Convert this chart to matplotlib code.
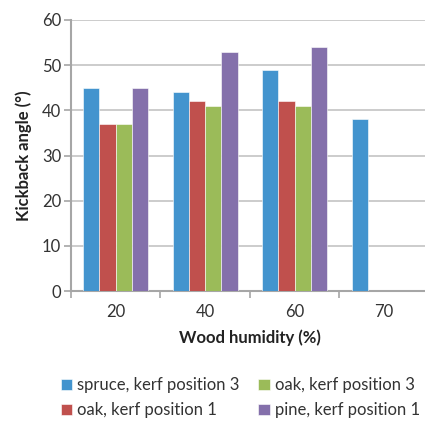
import numpy as np
import matplotlib
matplotlib.use("Agg")
import matplotlib.pyplot as plt

plt.rcParams['font.family'] = ['Lato', 'DejaVu Sans']

humidity = ['20', '40', '60', '70']
series = ['spruce, kerf position 3', 'oak, kerf position 1',
          'oak, kerf position 3', 'pine, kerf position 1']
spruce_k3 = [45, 44, 49, 38]
oak_k1 = [37, 42, 42, 0]
oak_k3 = [37, 41, 41, 0]
pine_k1 = [45, 53, 54, 0]
values = [spruce_k3, oak_k1, oak_k3, pine_k1]
colors = ['#4394CE', '#C0504D', '#9BBB59', '#8470AB']

fig = plt.figure(figsize=(4.25, 4.25), dpi=100)
ax = fig.add_axes([0.167, 0.315, 0.842, 0.638])

x = np.arange(len(humidity))
w = 1 / 5.5
for i, (name, vals) in enumerate(zip(series, values)):
    ax.bar(x + (i - 1.5) * w, vals, w, color=colors[i], edgecolor='white',
           linewidth=0.4, label=name, zorder=3)

ax.set_xlim(-0.5, 3.5)
ax.set_ylim(0, 60)
ax.set_yticks(range(0, 61, 10))
ax.yaxis.grid(True, color='#C4C4C4', linewidth=1.2, zorder=0)
ax.set_xticks(x)
ax.set_xticklabels(humidity)
ax.set_xticks(np.arange(-0.5, 3.6, 1), minor=True)
ax.tick_params(axis='x', which='major', length=0, pad=9, labelsize=12, colors='#333333')
ax.tick_params(axis='x', which='minor', length=5, color='#A6A6A6', width=1.2)
ax.tick_params(axis='y', length=5, color='#A6A6A6', width=1.2, labelsize=12,
               labelcolor='#333333', pad=2)
for s in ['top', 'right']:
    ax.spines[s].set_visible(False)
for s in ['left', 'bottom']:
    ax.spines[s].set_color('#A6A6A6')
    ax.spines[s].set_linewidth(1.5)

ax.set_ylabel('Kickback angle (°)', fontsize=12, fontweight='bold', color='#222222', labelpad=7)
ax.set_xlabel('Wood humidity (%)', fontsize=12, fontweight='bold', color='#222222', labelpad=7)

fig.legend(loc='center', bbox_to_anchor=(0.565, 0.064), ncol=2, frameon=False,
           fontsize=12, handlelength=0.7, handleheight=0.7, handletextpad=0.3,
           columnspacing=1.1, labelspacing=0.55, labelcolor='#333333')

fig.savefig('out.png', dpi=100)
